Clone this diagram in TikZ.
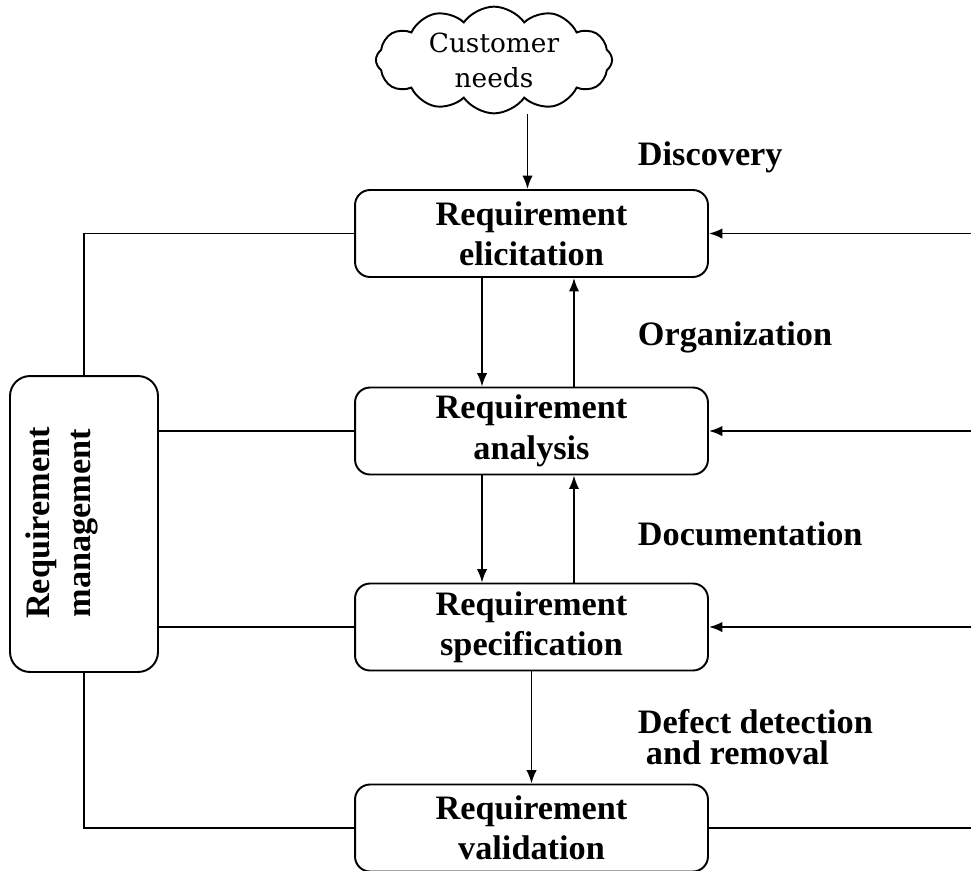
\documentclass[tikz,border=0pt]{standalone}
\usepackage{fontspec}
\setmainfont{Liberation Serif}
\newfontfamily\cloudfont{DejaVu Serif}
\usepackage{tikz}
\usetikzlibrary{shapes.symbols,arrows.meta}

\begin{document}
\begin{tikzpicture}[x=0.02cm,y=-0.02cm,line width=1.1pt,
  reqbox/.style={draw,rounded corners=0.3cm,minimum width=7.06cm,minimum height=1.74cm,
    align=center,inner sep=0pt,font=\bfseries\fontsize{19.5}{23}\selectfont},
  lbl/.style={anchor=base west,inner sep=0pt,font=\bfseries\fontsize{19.5}{23}\selectfont},
  arr/.style={-{Latex[length=0.27cm,width=0.21cm]}}]
  \useasboundingbox (0,0) rectangle (971,870);

  %cloud
  \node[cloud,draw,cloud puffs=12,cloud puff arc=110,aspect=3,minimum width=4.4cm,minimum height=1.5cm,
    inner sep=0pt,align=center,font=\cloudfont\fontsize{15}{20}\selectfont] (needs) at (494,60) {Customer\\needs};

  %process boxes
  \node[reqbox] (elicit) at (531.5,233.5) {Requirement\\elicitation};
  \node[reqbox] (analysis) at (531.5,431) {Requirement\\analysis};
  \node[reqbox] (spec) at (531.5,627) {Requirement\\specification};
  \node[reqbox] (valid) at (531.5,828) {Requirement\\validation};

  %management
  \node[draw,rounded corners=0.4cm,minimum width=2.96cm,minimum height=5.92cm] (mgmt) at (84,524) {};
  \node[rotate=90,align=center,inner sep=0pt,font=\bfseries\fontsize{19.5}{23}\selectfont] (mgmtlbl) at (62,523) {Requirement\\management};

  %phase labels
  \node[lbl] (discovery) at (637,165) {Discovery};
  \node[lbl] (organization) at (637,345) {Organization};
  \node[lbl] (documentation) at (637,545) {Documentation};
  \node[lbl,anchor=north west,align=left,font=\bfseries\fontsize{19.5}{18}\selectfont] (defect) at (637,708) {Defect detection\\\hspace*{0.16cm}and removal};

  %down and up
  \draw[arr] ([xshift=-0.08cm]needs.south -| elicit.north) -- ([xshift=-0.08cm]elicit.north);
  \draw[arr] ([xshift=-0.99cm]elicit.south) -- ([xshift=-0.99cm]analysis.north);
  \draw[arr] ([xshift=0.85cm]analysis.north) -- ([xshift=0.85cm]elicit.south);
  \draw[arr] ([xshift=-0.99cm]analysis.south) -- ([xshift=-0.99cm]spec.north);
  \draw[arr] ([xshift=0.85cm]spec.north) -- ([xshift=0.85cm]analysis.south);
  \draw[arr] (spec.south) -- (valid.north);

  %left side
  \draw (elicit.west) -| (mgmt.north);
  \draw (analysis.west) -- (analysis.west -| mgmt.east);
  \draw (spec.west) -- (spec.west -| mgmt.east);
  \draw (mgmt.south) |- (valid.west);

  %right side
  \coordinate (rim) at (971,0);
  \draw[arr] (elicit.east -| rim) -- (elicit.east);
  \draw[arr] (analysis.east -| rim) -- (analysis.east);
  \draw[arr] (spec.east -| rim) -- (spec.east);
  \draw (valid.east) -- (valid.east -| rim);
\end{tikzpicture}
\end{document}
